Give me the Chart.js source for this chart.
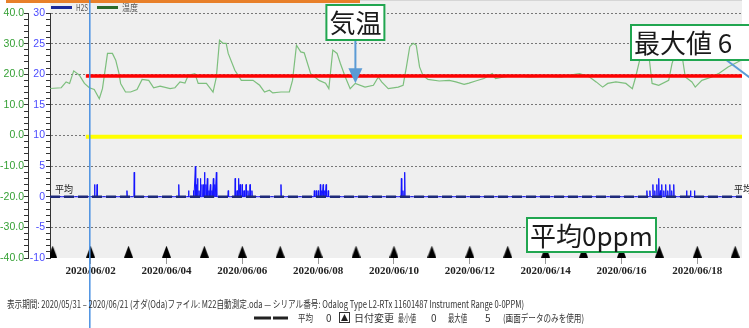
<!DOCTYPE html>
<html>
<head>
<meta charset="utf-8">
<script src="https://cdn.jsdelivr.net/npm/chart.js@4.4.0/dist/chart.umd.min.js"></script>
<style>
  html, body { margin: 0; padding: 0; background: #fff; }
</style>
</head>
<body>
<canvas id="odalog" width="749" height="328"></canvas>
<script>
// x values are hours counted from 2020/05/31 00:00
const viewStart = 22.3;
const viewEnd = 460.3;
const cursorHour = 47.5;

const dateTicks = ['2020/06/02', '2020/06/04', '2020/06/06', '2020/06/08', '2020/06/10',
  '2020/06/12', '2020/06/14', '2020/06/16', '2020/06/18'];
// days of June where the logger marks a date change
const dayMarkers = [1, 2, 3, 4, 5, 6, 7, 8, 9, 10, 11, 12, 13, 14, 15, 16, 17, 18, 19];

// temperature (left axis, deg C)
const tempHours = [
  21.1, 29.4, 32.5, 34.7, 37.3, 40.9, 44.1, 47.2, 50.3, 53.5,
  55.5, 58.7, 61.8, 63.9, 66.0, 67.0, 70.1, 73.3, 77.4, 80.6,
  84.8, 87.9, 92.0, 98.3, 101.4, 104.6, 107.7, 109.8, 114.0, 116.1,
  121.3, 125.5, 127.6, 129.6, 131.8, 133.8, 135.1, 139.3, 143.4, 150.8,
  155.0, 158.1, 161.2, 163.3, 168.5, 173.8, 175.8, 178.3, 181.0, 183.2,
  187.3, 192.6, 196.7, 198.8, 201.3, 204.0, 206.1, 209.2, 212.3, 215.5,
  221.7, 227.0, 230.1, 232.2, 236.4, 242.7, 245.8, 247.9, 250.0, 252.1,
  254.1, 256.2, 258.3, 261.5, 268.7, 275.0, 279.2, 284.4, 287.5, 291.7,
  296.9, 302.2, 304.3, 309.5, 316.8, 325.2, 335.6, 346.1, 354.4, 357.5,
  363.8, 368.0, 372.1, 375.3, 380.5, 386.8, 390.9, 393.0, 395.7, 398.2,
  401.4, 402.6, 403.4, 407.6, 413.9, 416.0, 418.9, 422.1, 424.4, 428.6,
  430.7, 434.9, 441.2, 445.4, 451.5, 459.7, 462.0
];
const tempValues = [
  15.3, 15.6, 17.5, 17.0, 21.1, 19.7, 17.0, 15.6, 15.0, 12.0,
  15.3, 26.8, 26.8, 24.6, 20.2, 17.0, 14.2, 14.2, 15.0, 18.3,
  18.0, 15.6, 16.1, 15.3, 15.6, 17.5, 17.1, 19.7, 20.2, 17.0,
  17.0, 14.2, 19.1, 31.1, 30.1, 30.1, 26.8, 21.3, 18.0, 18.0,
  16.4, 14.2, 14.8, 13.9, 14.2, 14.2, 18.0, 29.5, 27.3, 27.0,
  20.2, 18.0, 17.1, 15.3, 27.9, 26.8, 23.5, 19.1, 15.3, 17.0,
  15.8, 16.4, 19.1, 17.5, 15.3, 15.8, 16.4, 22.4, 29.0, 30.1,
  29.5, 22.4, 19.7, 18.3, 17.8, 18.0, 17.5, 16.7, 17.1, 17.8,
  18.6, 20.2, 18.6, 19.1, 19.6, 19.1, 19.4, 19.1, 20.0, 20.2,
  19.1, 17.5, 15.8, 17.0, 17.5, 17.0, 15.3, 19.1, 25.0, 28.5,
  26.0, 20.5, 17.0, 16.4, 18.0, 23.5, 28.0, 27.0, 19.1, 17.5,
  15.8, 18.0, 19.1, 20.2, 22.4, 24.6, 25.5
];

// H2S readings above zero (right axis, ppm); everything else reads 0
const spikeHours = [
  50.5, 52.1, 71.0, 75.6, 103.8, 110.0,
  113.2, 114.3, 115.0, 115.7, 116.6, 117.5, 118.5, 119.4, 120.1, 121.0, 121.9, 122.9, 123.8, 124.8, 125.7, 126.6, 127.6,
  135.1,
  139.5, 140.7, 141.7, 142.6, 143.9, 145.1, 146.4, 147.6, 148.9, 150.1,
  168.5,
  189.6, 190.8, 192.1, 193.4, 194.3, 195.2, 196.2, 197.1, 198.4,
  244.7, 245.7, 246.8,
  400.1, 402.0, 403.9, 405.1, 406.4, 407.6, 408.6, 409.5, 410.8, 412.0, 413.3, 414.6, 415.8, 417.1,
  425.2, 427.7, 430.2
];
const spikePpm = [
  2, 2, 1, 4, 2, 1,
  1, 5, 2, 3, 1, 3, 2, 2, 4, 2, 3, 1, 2, 1, 3, 2, 4,
  1,
  3, 1, 3, 2, 2, 1, 2, 1, 2, 1,
  2,
  1, 1, 1, 2, 1, 2, 1, 2, 1,
  3, 1, 4,
  1, 1, 2, 1, 2, 3, 1, 2, 1, 2, 1, 2, 1, 2,
  1, 1, 1
];

const avgPpm = 0;
const minPpm = 0;
const upperLimit = 19.7;
const lowerLimit = 9.8;
const limitStart = 45;
const markerLevel = -8.95;

const hourOf = s => {
  const [, m, d] = s.split('/').map(Number);
  return m === 5 ? (d - 31) * 24 : d * 24;
};

const h2sPoints = [{x: viewStart - 1, y: 0}];
spikeHours.forEach((h, i) => {
  h2sPoints.push({x: h - 0.25, y: 0}, {x: h, y: spikePpm[i]}, {x: h + 0.25, y: 0});
});
h2sPoints.push({x: viewEnd + 2, y: 0});

// date change marker
const tri = document.createElement('canvas');
tri.width = 9; tri.height = 12;
const tctx = tri.getContext('2d');
tctx.fillStyle = '#000';
tctx.beginPath();
tctx.moveTo(4.5, 0); tctx.lineTo(9, 12); tctx.lineTo(0, 12);
tctx.closePath(); tctx.fill();

const backdrop = {
  id: 'backdrop',
  beforeDraw(chart) {
    const {ctx, chartArea: a} = chart;
    ctx.save();
    ctx.fillStyle = '#efefef';
    ctx.fillRect(a.left, 0, a.right - a.left, a.bottom);
    ctx.fillStyle = '#d6d6d6';
    ctx.fillRect(360, 0, a.right - 360, 1);
    ctx.fillStyle = '#e8802a';
    ctx.fillRect(6, 0, 354, 3);

    // series legend
    ctx.fillStyle = '#1b2a9c';
    ctx.fillRect(51, 6, 21, 3);
    ctx.fillStyle = '#2b6a2b';
    ctx.fillRect(97, 6, 21, 3);
    ctx.fillStyle = '#555';
    ctx.font = '9px "Noto Sans CJK JP"';
    ctx.textBaseline = 'middle';
    ctx.fillText('H2S', 76, 7.5, 12);
    ctx.fillText('温度', 122, 7.5, 16);
    ctx.restore();
  }
};

const callout = (ctx, text, x, y, w, h) => {
  ctx.fillStyle = '#fff';
  ctx.fillRect(x, y, w, h);
  ctx.strokeStyle = '#21a650';
  ctx.lineWidth = 2;
  ctx.strokeRect(x, y, w, h);
  ctx.fillStyle = '#1a1a1a';
  ctx.font = '26px "Noto Sans CJK JP"';
  ctx.textBaseline = 'middle';
  ctx.fillText(text, x + 3, y + h / 2 + 1);
};

const overlay = {
  id: 'overlay',
  afterDraw(chart) {
    const {ctx, chartArea: a, scales} = chart;
    const xs = scales.x, yT = scales.yT, yH = scales.yH;
    ctx.save();

    // average tags
    ctx.fillStyle = '#222';
    ctx.font = '10px "Noto Sans CJK JP"';
    ctx.textBaseline = 'middle';
    const ay = yH.getPixelForValue(avgPpm) - 8;
    ctx.fillText('平均', a.left + 5, ay, 18);
    ctx.fillText('平均', a.right - 8, ay, 18);

    // cursor
    const cx = xs.getPixelForValue(cursorHour);
    ctx.strokeStyle = '#4a90e2';
    ctx.lineWidth = 1.5;
    ctx.beginPath();
    ctx.moveTo(cx, 0);
    ctx.lineTo(cx, chart.height);
    ctx.stroke();

    // 気温 callout with arrow
    const tipX = xs.getPixelForValue(215.6);
    const tipY = yT.getPixelForValue(17.1);
    ctx.strokeStyle = '#5b9bd5';
    ctx.fillStyle = '#5b9bd5';
    ctx.lineWidth = 2;
    ctx.beginPath();
    ctx.moveTo(tipX, 40);
    ctx.lineTo(tipX, tipY - 14);
    ctx.stroke();
    ctx.beginPath();
    ctx.moveTo(tipX - 7, tipY - 15);
    ctx.lineTo(tipX + 7, tipY - 15);
    ctx.lineTo(tipX, tipY);
    ctx.closePath();
    ctx.fill();
    callout(ctx, '気温', tipX - 29, 5, 58, 35);

    // 最大値 callout
    ctx.strokeStyle = '#5b9bd5';
    ctx.lineWidth = 2;
    ctx.beginPath();
    ctx.moveTo(725, 59);
    ctx.lineTo(753, 80);
    ctx.stroke();
    callout(ctx, '最大値 6', 631, 25, 130, 35);

    callout(ctx, '平均' + avgPpm + 'ppm', 527, 218, 129, 34);

    // footer
    ctx.fillStyle = '#333';
    ctx.font = '10px "Noto Sans CJK JP"';
    ctx.textBaseline = 'middle';
    ctx.fillText('表示期間: 2020/05/31 – 2020/06/21 (オダ(Oda)ファイル: M22自動測定.oda — シリアル番号: Odalog Type L2-RTx 11601487 Instrument Range 0-0PPM)', 7, 304, 517);
    ctx.fillStyle = '#222';
    ctx.fillRect(254, 316.5, 17, 3);
    ctx.fillRect(273, 316.5, 15, 3);
    ctx.strokeStyle = '#333';
    ctx.lineWidth = 1;
    ctx.strokeRect(339.5, 312.5, 10, 10);
    ctx.beginPath();
    ctx.moveTo(344.5, 314); ctx.lineTo(348, 321); ctx.lineTo(341, 321);
    ctx.closePath(); ctx.fill();
    ctx.fillStyle = '#333';
    const maxPpm = Math.max(...spikePpm);
    [['平均', 298, 15], [String(avgPpm), 326, 6], ['日付変更', 354, 41],
     ['最小値', 398, 18], [String(minPpm), 431, 6], ['最大値', 448, 19],
     [String(maxPpm), 485, 6], ['(画面データのみを使用)', 503, 81]]
      .forEach(([t, x, w]) => ctx.fillText(t, x, 318, w));

    ctx.restore();
  }
};

const lineSet = (label, data, axis, color, width, order, extra) => Object.assign({
  label, data, yAxisID: axis, borderColor: color, borderWidth: width,
  pointRadius: 0, fill: false, tension: 0, order
}, extra || {});

new Chart(document.getElementById('odalog'), {
  type: 'line',
  data: {
    datasets: [
      {
        type: 'scatter', label: '日付変更', yAxisID: 'yH', order: 0,
        data: dayMarkers.map(d => ({x: d * 24, y: markerLevel})),
        pointStyle: tri, pointRadius: 6, showLine: false
      },
      lineSet('平均', [{x: viewStart, y: avgPpm}, {x: viewEnd, y: avgPpm}], 'yH', '#1f2a7a', 2.5, 1, {borderDash: [10, 4]}),
      lineSet('H2S', h2sPoints, 'yH', '#1414ff', 1, 2),
      lineSet('upper', [{x: limitStart, y: upperLimit}, {x: viewEnd, y: upperLimit}], 'yH', '#ff0000', 3.5, 3),
      lineSet('lower', [{x: limitStart, y: lowerLimit}, {x: viewEnd, y: lowerLimit}], 'yH', '#ffff00', 4, 4),
      lineSet('温度', tempHours.map((h, i) => ({x: h, y: tempValues[i]})), 'yT', 'rgba(105,182,105,0.85)', 1.2, 5)
    ]
  },
  options: {
    responsive: false,
    animation: false,
    layout: {padding: {top: 13, left: 0, right: 0, bottom: 0}},
    plugins: {legend: {display: false}, tooltip: {enabled: false}},
    scales: {
      x: {
        type: 'linear', min: viewStart, max: viewEnd, bounds: 'data',
        afterBuildTicks: s => { s.ticks = dateTicks.map(d => ({value: hourOf(d)})); },
        afterFit: s => { s.height = 70; },
        ticks: {
          autoSkip: false, maxRotation: 0, padding: 1, color: '#222',
          font: {family: '"Liberation Serif"', size: 11, weight: 'bold'},
          callback: (v, i) => dateTicks[i]
        },
        grid: {drawOnChartArea: false, tickLength: 6, tickColor: '#999'},
        border: {display: false}
      },
      yH: {
        position: 'left', weight: 1, min: -10, max: 30,
        afterFit: s => { s.width = 22; },
        ticks: {
          stepSize: 1, autoSkip: false, padding: 1, color: '#4b4bff',
          font: {family: '"Liberation Sans"', size: 10.5},
          callback: v => (v % 5 === 0 ? String(v) : '')
        },
        grid: {
          tickLength: 4, tickColor: '#333', lineWidth: 1,
          color: c => (c.tick && c.tick.value % 5 === 0 && c.tick.value > -10) ? '#777' : 'rgba(0,0,0,0)'
        },
        border: {display: true, color: '#333', width: 1, dash: [2, 2]}
      },
      yT: {
        position: 'left', weight: 2, min: -40, max: 40,
        afterFit: s => { s.width = 28; },
        ticks: {
          stepSize: 2, autoSkip: false, padding: 0, color: '#35a035',
          font: {family: '"Liberation Sans"', size: 10.5},
          callback: v => (v % 10 === 0 ? v.toFixed(1) : '')
        },
        grid: {drawOnChartArea: false, tickLength: 4, tickColor: '#333'},
        border: {display: true, color: '#333', width: 1}
      }
    }
  },
  plugins: [backdrop, overlay]
});
</script>
</body>
</html>
